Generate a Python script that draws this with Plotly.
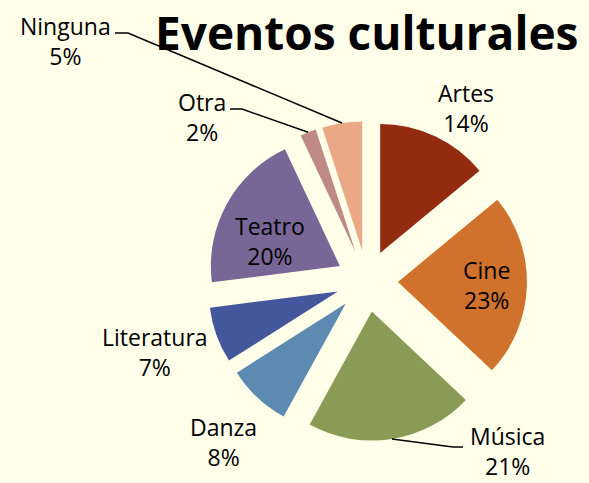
import math
import plotly.graph_objects as go

# ---- data ----
categories = ["Artes", "Cine", "Música", "Danza", "Literatura", "Teatro", "Otra", "Ninguna"]
values = [14, 23, 21, 8, 7, 20, 2, 5]
colors = ["#922B10", "#D0722B", "#8A9B56", "#5C8AB0", "#44579C", "#786696", "#BE8A84", "#EBA887"]
title_text = "Eventos culturales"

# ---- layout constants (pixels) ----
W, H = 589, 483
BG = "#FFFFEA"
CX, CY = 367, 281          # pie centre
R = 129                    # pie radius
PULL = 0.24                # explode fraction
FONT = "Open Sans"

# label block centres (pixels)
label_pos = {
    "Artes": (466, 108),
    "Cine": (486, 285),
    "Música": (507, 451),
    "Danza": (223, 442),
    "Literatura": (155, 352),
    "Teatro": (270, 241),
    "Otra": (202, 117),
    "Ninguna": (65, 41),
}
# leader lines: start point near the label and elbow
leaders = {
    "Ninguna": [(115, 33), (128, 33)],
    "Otra": [(230, 109), (242, 109)],
    "Música": [(463, 447), (453, 447)],
}


def px(x):
    return x / W


def py(y):
    return 1 - y / H


half = R * (1 + PULL)
fig = go.Figure(go.Pie(
    labels=categories,
    values=values,
    marker=dict(colors=colors, line=dict(width=0)),
    sort=False,
    direction="clockwise",
    rotation=0,
    pull=[PULL] * len(values),
    textinfo="none",
    hoverinfo="label+percent",
    showlegend=False,
    domain=dict(x=[px(CX - half), px(CX + half)], y=[py(CY + half), py(CY - half)]),
))

annotations = []
for cat, v in zip(categories, values):
    x, y = label_pos[cat]
    annotations.append(dict(
        x=px(x), y=py(y), xref="paper", yref="paper",
        text=f"{cat}<br>{v}%", showarrow=False,
        xanchor="center", yanchor="middle",
        font=dict(family=FONT, size=23, color="#000000"),
    ))

annotations.append(dict(
    x=px(366), y=py(32), xref="paper", yref="paper",
    text=title_text, showarrow=False, xanchor="center", yanchor="middle",
    font=dict(family=FONT, size=46, color="#000000", weight="bold"),
))

# leader lines end on the slice's outer edge at its mid-angle
total = sum(values)
cum = 0
mid_angle = {}
for cat, v in zip(categories, values):
    mid_angle[cat] = (cum + v / 2) / total * 2 * math.pi
    cum += v

shapes = []
for cat, pts in leaders.items():
    a = mid_angle[cat]
    dx, dy = math.sin(a), -math.cos(a)
    ex = CX + dx * R * PULL + dx * R
    ey = CY + dy * R * PULL + dy * R
    all_pts = pts + [(ex, ey)]
    path = "M " + " L ".join(f"{px(x):.5f},{py(y):.5f}" for x, y in all_pts)
    shapes.append(dict(type="path", path=path, xref="paper", yref="paper",
                       line=dict(color="#000000", width=1.5)))

fig.update_layout(
    width=W, height=H,
    margin=dict(l=0, r=0, t=0, b=0),
    paper_bgcolor=BG, plot_bgcolor=BG,
    annotations=annotations,
    shapes=shapes,
)

fig.write_html(
    "out.html",
    config={"displayModeBar": False},
    post_script="document.body.style.margin='0';document.body.style.padding='0';"
                "document.body.style.overflow='hidden';",
)
